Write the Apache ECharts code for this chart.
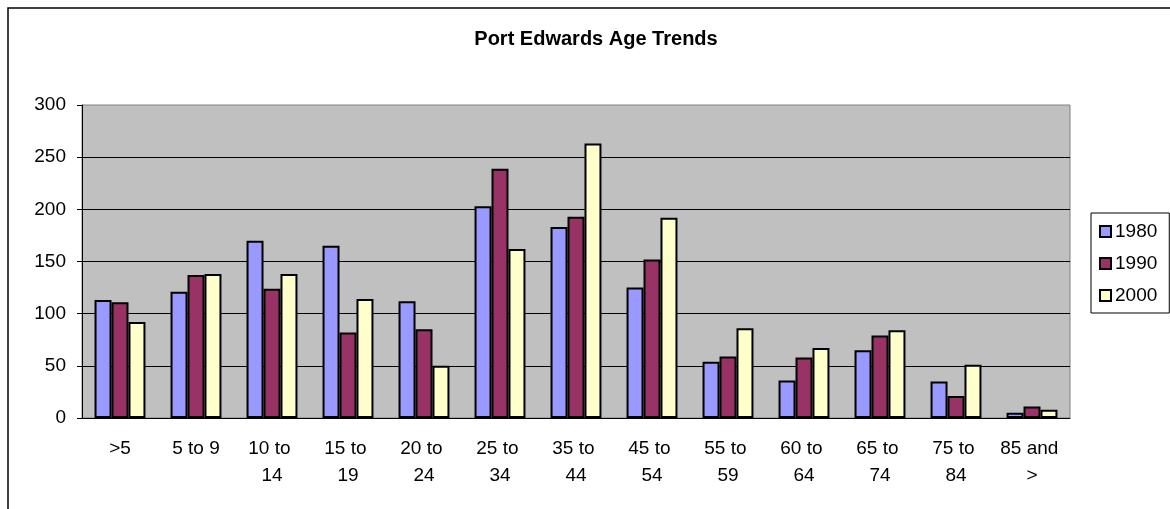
<!DOCTYPE html>
<html>
<head>
<meta charset="utf-8">
<title>Port Edwards Age Trends</title>
<script src="https://cdn.jsdelivr.net/npm/echarts@6/dist/echarts.min.js"></script>
<style>
	html, body { margin: 0; padding: 0; background: #fff; }
	#chart { width: 1170px; height: 509px; }
</style>
</head>
<body>
<div id="chart"></div>
<script>
const categories = ['>5', '5 to 9', '10 to 14', '15 to 19', '20 to 24', '25 to 34', '35 to 44', '45 to 54', '55 to 59', '60 to 64', '65 to 74', '75 to 84', '85 and >']
const data1980 = [113, 121, 170, 165, 112, 203, 183, 125, 54, 36, 65, 35, 5]
const data1990 = [111, 137, 124, 82, 85, 239, 193, 152, 59, 58, 79, 21, 11]
const data2000 = [92, 138, 138, 114, 50, 162, 263, 192, 86, 67, 84, 51, 8]
const yTicks = [0, 50, 100, 150, 200, 250, 300]

const seriesList = [
	{ name: '1980', data: data1980, color: '#9999FF' },
	{ name: '1990', data: data1990, color: '#993366' },
	{ name: '2000', data: data2000, color: '#FFFFCC' },
]

const font = 'Liberation Sans, Arial, sans-serif'

let option = {
	animation: false,
	textStyle: { fontFamily: font },
	title: {
		text: 'Port Edwards Age Trends',
		left: 596,
		top: 29,
		padding: 0,
		textAlign: 'center',
		textStyle: { fontFamily: font, fontSize: 20, fontWeight: 'bold', color: '#000' },
	},
	legend: {
		orient: 'vertical',
		left: 1091,
		top: 213,
		padding: [9, 12, 8, 8],
		itemGap: 13,
		itemWidth: 11,
		itemHeight: 11,
		icon: 'rect',
		borderColor: '#000',
		borderWidth: 1,
		textStyle: { fontFamily: font, fontSize: 19, color: '#000', padding: [0, 0, 0, -1] },
		data: seriesList.map(s => s.name),
	},
	grid: {
		left: 82,
		top: 105,
		right: 100,
		bottom: 91,
		show: true,
		backgroundColor: '#C0C0C0',
		borderColor: '#808080',
		borderWidth: 1,
	},
	xAxis: {
		type: 'category',
		data: categories,
		axisLine: { lineStyle: { color: '#000', width: 1 } },
		axisTick: { length: 5, lineStyle: { color: '#000' } },
		axisLabel: {
			fontFamily: font,
			fontSize: 19,
			color: '#000',
			margin: 17,
			lineHeight: 27,
			width: 66,
			overflow: 'break',
			interval: 0,
		},
	},
	yAxis: {
		type: 'value',
		min: yTicks[0],
		max: yTicks[yTicks.length - 1],
		interval: yTicks[1] - yTicks[0],
		axisLine: { show: true, lineStyle: { color: '#000', width: 1 } },
		axisTick: { show: true, length: 5, lineStyle: { color: '#000' } },
		axisLabel: { fontFamily: font, fontSize: 19, color: '#000', margin: 16 },
		splitLine: {
			show: true,
			showMinLine: false,
			showMaxLine: false,
			lineStyle: { color: '#000', width: 1 },
		},
	},
	graphic: [
		{
			// outer chart frame, only left and top edges are inside the picture
			type: 'rect',
			shape: { x: 8, y: 8, width: 1300, height: 700 },
			style: { fill: 'none', stroke: '#000', lineWidth: 1.5 },
			silent: true,
		},
	],
	series: seriesList.map(s => ({
		name: s.name,
		type: 'bar',
		data: s.data,
		barGap: '0%',
		barCategoryGap: '33%',
		itemStyle: { color: s.color, borderColor: '#000', borderWidth: 2 },
	})),
}

let myChart = echarts.init(document.getElementById('chart'))
myChart.setOption(option)
</script>
</body>
</html>
